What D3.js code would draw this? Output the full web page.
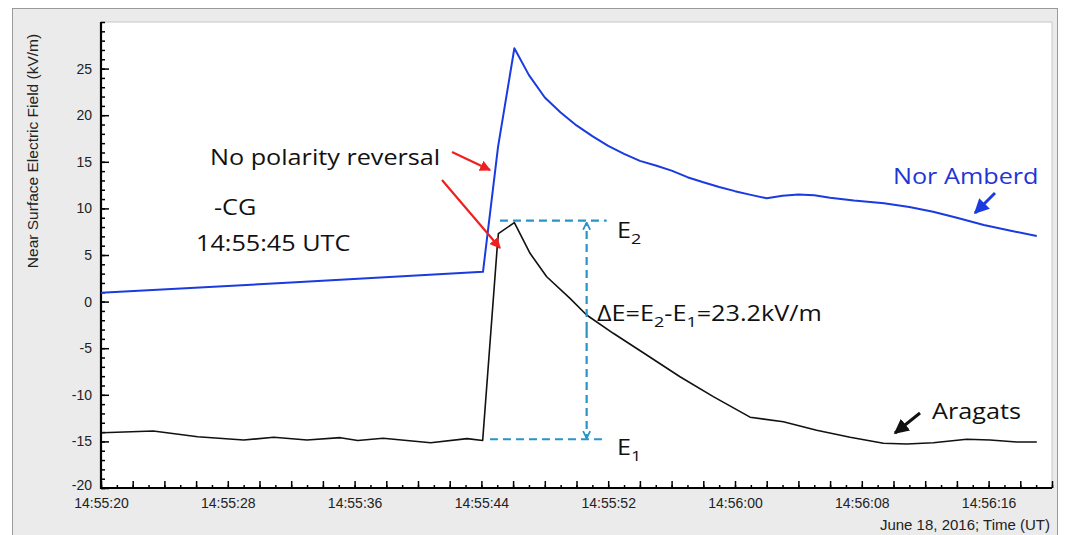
<!DOCTYPE html>
<meta charset="utf-8">
<html>
<head>
    <title>Near Surface Electric Field</title>
    <style>
        body { margin: 0; background: #fff; }
        .note { font-family: "Open Sans", Lato, sans-serif; font-size: 21px; }
    </style>
    <script src="https://d3js.org/d3.v7.min.js"></script>
</head>
<body>
    <div id="chart"></div>
    <script>
        // series: seconds after 14:55:20 and field in kV/m
        var norAmberdSec = [0, 12, 24.1, 25.05, 26.08, 27, 28, 29, 30, 31, 32, 33, 34, 35, 36, 37, 38, 39, 40, 41, 42, 43, 44, 45, 46, 47.5, 49.4, 51, 52.5, 54, 55.7, 57.4, 59.04];
        var norAmberdKV  = [0.95, 2.05, 3.2, 16.6, 27.18, 24.3, 21.9, 20.3, 18.9, 17.75, 16.7, 15.85, 15.1, 14.6, 14.05, 13.35, 12.8, 12.3, 11.85, 11.45, 11.08, 11.35, 11.5, 11.4, 11.15, 10.85, 10.55, 10.15, 9.65, 9.0, 8.22, 7.6, 7.04];

        var aragatsSec = [0.06, 3.3, 6.1, 9.0, 10.9, 13.0, 15.1, 16.2, 17.8, 20.8, 23.1, 24.08, 25.0, 25.07, 26.08, 27.07, 28.12, 29.59, 30.64, 32.32, 34.43, 36.53, 38.63, 40.95, 43.05, 45.15, 47.26, 49.36, 50.83, 52.51, 54.62, 56.09, 57.77, 59.04];
        var aragatsKV  = [-14.07, -13.88, -14.5, -14.85, -14.56, -14.85, -14.6, -14.9, -14.67, -15.14, -14.7, -14.9, 5.9, 7.3, 8.47, 5.18, 2.67, 0.35, -1.44, -3.4, -5.73, -8.06, -10.2, -12.4, -12.9, -13.8, -14.56, -15.2, -15.28, -15.14, -14.77, -14.85, -15.06, -15.06];

        var xTickLabels = ["14:55:20", "14:55:28", "14:55:36", "14:55:44", "14:55:52", "14:56:00", "14:56:08", "14:56:16"];
        var yTickLabels = [-20, -15, -10, -5, 0, 5, 10, 15, 20, 25];

        // E1 / E2 levels (kV/m) and span of the marker lines (seconds)
        var eLevels = [-14.77, 8.68];
        var eLineSec = [[24.54, 31.69], [25.17, 31.9]];
        var deltaSec = 30.64;

        var W = 1070, H = 535;
        var plot = { left: 101, right: 1052, top: 22, bottom: 488 };

        var svg = d3.select("#chart").append("svg")
            .attr("width", W)
            .attr("height", H);

        // grey window frame
        svg.append("rect")
            .attr("x", 12.5).attr("y", 8.5)
            .attr("width", 1045).attr("height", 540)
            .attr("fill", "#ebebeb")
            .attr("stroke", "#9a9a9a");

        svg.append("rect")
            .attr("x", plot.left).attr("y", plot.top)
            .attr("width", plot.right - plot.left).attr("height", plot.bottom - plot.top)
            .attr("fill", "#fff")
            .attr("stroke", "#c8c8c8");

        var t0 = new Date(2016, 5, 18, 14, 55, 20);
        function toDate(s) { return new Date(+t0 + s * 1000); }
        var parse = d3.timeParse("%H:%M:%S");
        function labelDate(str) {
            var p = parse(str);
            return new Date(2016, 5, 18, p.getHours(), p.getMinutes(), p.getSeconds());
        }

        var x = d3.scaleTime()
            .domain([t0, toDate(60)])
            .range([plot.left, plot.right]);
        var y = d3.scaleLinear()
            .domain([-20, 30])
            .range([plot.bottom, plot.top]);

        function tickStyle(g) {
            g.select(".domain").remove();
            g.selectAll("line").attr("stroke-width", 1.5);
            g.selectAll("text")
                .style("font-family", "'Liberation Sans', Arial, sans-serif")
                .style("font-size", "14px")
                .attr("fill", "#222");
        }

        // x ticks: 1 s minor, 2 s major, pointing into the plot
        svg.append("g")
            .attr("transform", "translate(0," + plot.bottom + ")")
            .call(d3.axisTop(x).ticks(d3.timeSecond.every(1)).tickSize(3).tickFormat(""))
            .call(tickStyle);
        svg.append("g")
            .attr("transform", "translate(0," + plot.bottom + ")")
            .call(d3.axisTop(x).ticks(d3.timeSecond.every(2)).tickSize(7).tickFormat(""))
            .call(tickStyle);
        svg.append("g")
            .attr("transform", "translate(0," + plot.bottom + ")")
            .call(d3.axisBottom(x).tickValues(xTickLabels.map(labelDate))
                .tickFormat(d3.timeFormat("%H:%M:%S")).tickSize(0).tickPadding(10))
            .call(tickStyle);

        // y ticks: 1 kV/m minor, 5 kV/m major
        svg.append("g")
            .attr("transform", "translate(" + plot.left + ",0)")
            .call(d3.axisRight(y).ticks(50).tickSize(4).tickFormat(""))
            .call(tickStyle);
        svg.append("g")
            .attr("transform", "translate(" + plot.left + ",0)")
            .call(d3.axisRight(y).tickValues(d3.range(-20, 30, 5)).tickSize(8).tickFormat(""))
            .call(tickStyle);
        svg.append("g")
            .attr("transform", "translate(" + plot.left + ",0)")
            .call(d3.axisLeft(y).tickValues(yTickLabels).tickFormat(String).tickSize(0).tickPadding(9))
            .call(tickStyle)
            .call(function (g) {
                // lowest label sits just above the time labels
                g.selectAll("text").filter(function (d) { return d == -20; }).attr("dy", "0.1em");
            });

        // axis lines
        svg.append("path")
            .attr("d", "M" + plot.left + "," + plot.top + "V" + plot.bottom + "H" + plot.right)
            .attr("fill", "none")
            .attr("stroke", "#000")
            .attr("stroke-width", 2.2);

        svg.append("text")
            .attr("transform", "translate(38,151) rotate(-90)")
            .attr("text-anchor", "middle")
            .attr("font-family", "Liberation Sans, Arial, sans-serif")
            .attr("font-size", 15.5)
            .attr("fill", "#222")
            .text("Near Surface Electric Field (kV/m)");

        svg.append("text")
            .attr("x", 1050).attr("y", 530)
            .attr("text-anchor", "end")
            .attr("font-family", "Liberation Sans, Arial, sans-serif")
            .attr("font-size", 15)
            .attr("fill", "#222")
            .text("June 18, 2016; Time (UT)");

        // curves
        var line = d3.line()
            .x(function (d) { return x(toDate(d[0])); })
            .y(function (d) { return y(d[1]); });

        svg.append("path")
            .datum(d3.zip(aragatsSec, aragatsKV))
            .attr("d", line)
            .attr("fill", "none")
            .attr("stroke", "#111")
            .attr("stroke-width", 1.6)
            .attr("stroke-linejoin", "round");

        svg.append("path")
            .datum(d3.zip(norAmberdSec, norAmberdKV))
            .attr("d", line)
            .attr("fill", "none")
            .attr("stroke", "#1a3be0")
            .attr("stroke-width", 2)
            .attr("stroke-linejoin", "round");

        // arrow heads
        var defs = svg.append("defs");
        [["red", "#ee2020"], ["blue", "#1a3be0"], ["black", "#111"], ["cyan", "#2a93c8"]].forEach(function (c) {
            defs.append("marker")
                .attr("id", "head-" + c[0])
                .attr("viewBox", "0 0 10 10")
                .attr("refX", 9).attr("refY", 5)
                .attr("markerWidth", c[0] == "cyan" ? 4 : 5)
                .attr("markerHeight", c[0] == "cyan" ? 4 : 5)
                .attr("orient", "auto")
                .append("path")
                .attr("d", c[0] == "cyan" ? "M1,1L9,5L1,9" : "M0,0L10,5L0,10z")
                .attr("fill", c[0] == "cyan" ? "none" : c[1])
                .attr("stroke", c[0] == "cyan" ? c[1] : "none")
                .attr("stroke-width", 2);
        });

        function arrow(x1, y1, x2, y2, col, key, w) {
            svg.append("line")
                .attr("x1", x1).attr("y1", y1).attr("x2", x2).attr("y2", y2)
                .attr("stroke", col)
                .attr("stroke-width", w)
                .attr("marker-end", "url(#head-" + key + ")");
        }
        arrow(452, 152, 490, 170, "#ee2020", "red", 2.2);
        arrow(442, 180, 500, 248, "#ee2020", "red", 2.2);
        arrow(995, 193, 975, 213, "#1a3be0", "blue", 3);
        arrow(920, 413, 895, 433, "#111", "black", 3);

        // E1 / E2 markers
        eLevels.forEach(function (v, i) {
            svg.append("line")
                .attr("x1", x(toDate(eLineSec[i][0]))).attr("x2", x(toDate(eLineSec[i][1])))
                .attr("y1", y(v)).attr("y2", y(v))
                .attr("stroke", "#2a93c8")
                .attr("stroke-width", 2.2)
                .attr("stroke-dasharray", "8,5");
        });
        var ym = (y(eLevels[0]) + y(eLevels[1])) / 2;
        [1, 0].forEach(function (i) {
            svg.append("line")
                .attr("x1", x(toDate(deltaSec))).attr("x2", x(toDate(deltaSec)))
                .attr("y1", ym).attr("y2", y(eLevels[i]) + (i ? 2 : -1))
                .attr("stroke", "#2a93c8").attr("stroke-width", 2.2)
                .attr("stroke-dasharray", "8,5")
                .attr("marker-end", "url(#head-cyan)");
        });

        // texts (the source figure is a little stretched sideways)
        function note(tx, ty, str, col) {
            return svg.append("text")
                .attr("class", "note")
                .attr("transform", "translate(" + tx + "," + ty + ") scale(1.2,1)")
                .attr("fill", col || "#111")
                .text(str);
        }
        note(210, 165, "No polarity reversal");
        note(214, 215, "-CG");
        note(196, 251, "14:55:45 UTC");
        note(893, 184, "Nor Amberd", "#1f35d6");
        note(932, 419, "Aragats");

        // parts: [text, isSubscript]
        function subText(t, parts) {
            var low = false;
            parts.forEach(function (p) {
                var s = t.append("tspan").text(p[0]);
                if (p[1]) { s.attr("dy", 6).attr("font-size", 15); low = true; }
                else if (low) { s.attr("dy", -6); low = false; }
            });
        }
        subText(note(617, 238, ""), [["E"], ["2", 1]]);
        subText(note(617, 455, ""), [["E"], ["1", 1]]);
        subText(note(597, 321, ""), [["\u0394E=E"], ["2", 1], ["-E"], ["1", 1], ["=23.2kV/m"]]);
    </script>
</body>
</html>
